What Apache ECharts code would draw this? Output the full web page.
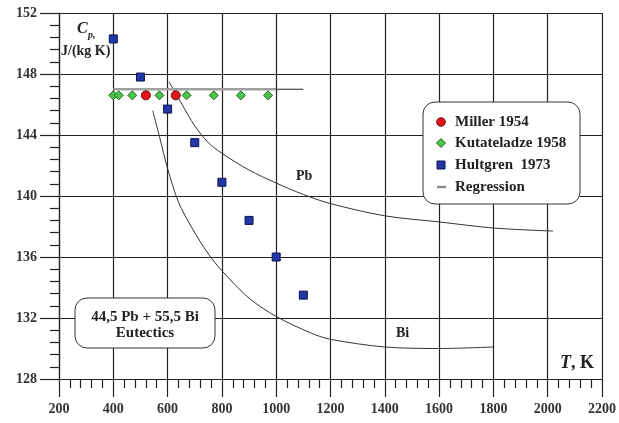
<!DOCTYPE html>
<html>
<head>
<meta charset="utf-8">
<script src="https://cdn.jsdelivr.net/npm/echarts@6/dist/echarts.min.js"></script>
<style>
    html, body { margin: 0; padding: 0; background: #fff; }
    #chart { width: 619px; height: 423px; }
</style>
</head>
<body>
<div id="chart"></div>
<script>
    // axis ranges: T in K, Cp in J/(kg K)
    var tMin = 200, tMax = 2200, tStep = 200
    var cpMin = 128, cpMax = 152, cpStep = 4

    // Miller 1954
    var millerT = [520, 630]
    var millerCp = [146.6, 146.6]
    // Kutateladze 1958
    var kutT = [400, 420, 470, 570, 670, 770, 870, 970]
    var kutCp = [146.6, 146.6, 146.6, 146.6, 146.6, 146.6, 146.6, 146.6]
    // Hultgren 1973
    var hultT = [400, 500, 600, 700, 800, 900, 1000, 1100]
    var hultCp = [150.3, 147.8, 145.7, 143.5, 140.9, 138.4, 136.0, 133.5]
    // regression for the eutectic
    var regT = [400, 1000]
    var regCp = [147.0, 147.0]
    var regExtT = [1000, 1100]
    var regExtCp = [147.0, 147.0]
    // Pb curve
    var pbT = [605, 650, 700, 750, 800, 900, 1000, 1100, 1200, 1400, 1600, 1800, 2020]
    var pbCp = [147.5, 146.1, 144.6, 143.5, 142.8, 141.7, 140.85, 140.1, 139.5, 138.7, 138.3, 137.9, 137.7]
    // Bi curve
    var biT = [545, 570, 600, 640, 690, 750, 800, 900, 1000, 1130, 1200, 1400, 1600, 1800]
    var biCp = [145.6, 143.9, 141.8, 139.6, 137.9, 136.2, 135.1, 133.3, 132.1, 131.0, 130.6, 130.1, 130.0, 130.1]

    var legendNames = ['Miller 1954', 'Kutateladze 1958', 'Hultgren  1973', 'Regression']

    var serif = '"Liberation Serif", "DejaVu Serif", serif'
    var ink = '#222'
    var red = '#e3141c', green = '#4cc34c', blue = '#2436a8', gray = '#a0a0a0'

    function pairs(xs, ys) {
        return xs.map(function (x, i) { return [x, ys[i]] })
    }

    function label(text, x, y, size, extra) {
        var st = { text: text, fontFamily: serif, fontWeight: 'bold', fontSize: size, fill: ink }
        for (var k in extra) st[k] = extra[k]
        return { type: 'text', x: x, y: y, z: 120, style: st }
    }

    function axis(min, max, step, tickLen, margin) {
        return {
            type: 'value', min: min, max: max, interval: step,
            axisLine: { show: true, onZero: false, lineStyle: { color: ink, width: 1.2 } },
            axisTick: { show: true, inside: false, length: tickLen, lineStyle: { color: ink, width: 1.2 } },
            minorTick: { show: true, splitNumber: 5, length: 9, lineStyle: { color: ink, width: 1.2 } },
            splitLine: { show: true, lineStyle: { color: ink, width: 1.2 } },
            axisLabel: {
                margin: margin, fontFamily: serif, fontWeight: 'bold', fontSize: 14, color: '#333',
                formatter: function (v) { return String(v) }
            }
        }
    }

    // legend box drawn as graphic
    var rowY = [122, 143, 165, 187]
    var legendBox = [
        { type: 'rect', z: 110, shape: { x: 423, y: 102, width: 157, height: 102, r: 12 },
          style: { fill: '#fff', stroke: '#333', lineWidth: 1 } },
        { type: 'circle', z: 115, shape: { cx: 441, cy: rowY[0], r: 4.3 },
          style: { fill: red, stroke: '#6b0a0a', lineWidth: 1 } },
        { type: 'polygon', z: 115, shape: { points: [[441, rowY[1] - 4.5], [445.5, rowY[1]], [441, rowY[1] + 4.5], [436.5, rowY[1]]] },
          style: { fill: green, stroke: '#1e661e', lineWidth: 1 } },
        { type: 'rect', z: 115, shape: { x: 437, y: rowY[2] - 4, width: 8, height: 8 },
          style: { fill: blue, stroke: '#0b1450', lineWidth: 1 } },
        { type: 'rect', z: 115, shape: { x: 437, y: rowY[3] - 1.2, width: 9, height: 2.4 },
          style: { fill: '#888' } }
    ]
    legendNames.forEach(function (name, i) {
        legendBox.push(label(name, 455, rowY[i], 15, { verticalAlign: 'middle', textVerticalAlign: 'middle' }))
    })

    var chart = echarts.init(document.getElementById('chart'))
    chart.setOption({
        animation: false,
        grid: { left: 59, right: 13, top: 13, bottom: 44 },
        xAxis: axis(tMin, tMax, tStep, 18, 23),
        yAxis: axis(cpMin, cpMax, cpStep, 19, 22),
        graphic: legendBox.concat([
            { type: 'rect', z: 110, shape: { x: 75, y: 298, width: 140, height: 50, r: 12 },
              style: { fill: '#fff', stroke: '#333', lineWidth: 1 } },
            label('44,5 Pb + 55,5 Bi', 145, 310, 15, { align: 'center', textAlign: 'center' }),
            label('Eutectics', 145, 326, 15, { align: 'center', textAlign: 'center' }),
            label('C', 77, 21, 16, { fontStyle: 'italic' }),
            label('p,', 88, 30, 10, { fontStyle: 'italic' }),
            label('J/(kg K)', 61, 44, 14),
            label('Pb', 296, 169, 14),
            label('Bi', 396, 326, 14),
            label('T', 560, 354, 18, { fontStyle: 'italic' }),
            label(', K', 571, 354, 18)
        ]),
        series: [
            {
                name: 'Pb', type: 'line', smooth: 0.3, symbol: 'none', z: 3,
                lineStyle: { color: '#333', width: 1 },
                data: pairs(pbT, pbCp)
            },
            {
                name: 'Bi', type: 'line', smooth: 0.3, symbol: 'none', z: 3,
                lineStyle: { color: '#333', width: 1 },
                data: pairs(biT, biCp)
            },
            {
                name: legendNames[3], type: 'line', symbol: 'none', z: 3,
                lineStyle: { color: gray, width: 2.5 },
                data: pairs(regT, regCp)
            },
            {
                name: 'Regression ext', type: 'line', symbol: 'none', z: 3,
                lineStyle: { color: ink, width: 1 },
                data: pairs(regExtT, regExtCp)
            },
            {
                name: legendNames[0], type: 'scatter', symbol: 'circle', symbolSize: 9, z: 5,
                itemStyle: { color: red, borderColor: '#6b0a0a', borderWidth: 1, opacity: 1 },
                data: pairs(millerT, millerCp)
            },
            {
                name: legendNames[1], type: 'scatter', symbol: 'diamond', symbolSize: 9, z: 5,
                itemStyle: { color: green, borderColor: '#1e661e', borderWidth: 1, opacity: 1 },
                data: pairs(kutT, kutCp)
            },
            {
                name: legendNames[2], type: 'scatter', symbol: 'rect', symbolSize: 8, z: 5,
                itemStyle: { color: blue, borderColor: '#0b1450', borderWidth: 1, opacity: 1 },
                data: pairs(hultT, hultCp)
            }
        ]
    })
</script>
</body>
</html>
